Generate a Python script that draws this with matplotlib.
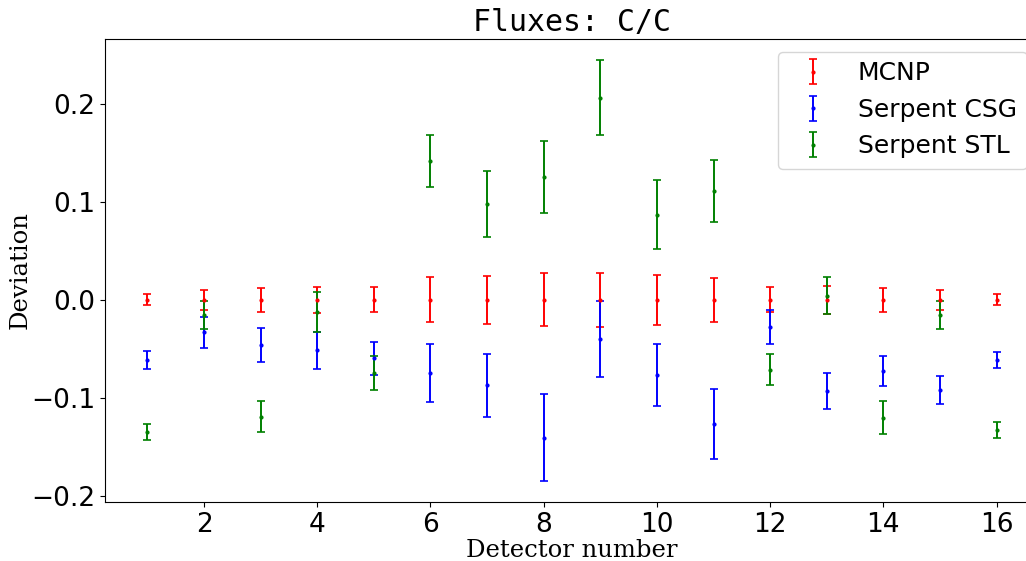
import matplotlib
matplotlib.use("Agg")
import matplotlib.pyplot as plt
import numpy as np

detectors = list(range(1, 17))

mcnp_val = [0.0] * 16
mcnp_err = [0.0058, 0.0102, 0.0121, 0.0136, 0.0129, 0.0230, 0.0243, 0.0269,
            0.0277, 0.0253, 0.0224, 0.0128, 0.0141, 0.0121, 0.0102, 0.0058]

csg_val = [-0.0616, -0.0333, -0.0459, -0.0517, -0.0599, -0.0752, -0.0874, -0.1408,
           -0.0401, -0.0769, -0.1269, -0.0282, -0.0932, -0.0728, -0.0922, -0.0616]
csg_err = [0.0088, 0.0156, 0.0173, 0.0189, 0.0172, 0.0296, 0.0321, 0.0446,
           0.0390, 0.0318, 0.0362, 0.0173, 0.0185, 0.0151, 0.0143, 0.0080]

stl_val = [-0.1350, -0.0156, -0.1194, -0.0126, -0.0748, 0.1422, 0.0980, 0.1259,
           0.2065, 0.0871, 0.1112, -0.0714, 0.0044, -0.1204, -0.0156, -0.1330]
stl_err = [0.0085, 0.0141, 0.0156, 0.0202, 0.0175, 0.0267, 0.0339, 0.0367,
           0.0384, 0.0350, 0.0320, 0.0160, 0.0187, 0.0165, 0.0141, 0.0080]

labels = ["MCNP", "Serpent CSG", "Serpent STL"]
colors = ["red", "blue", "green"]

fig = plt.figure(figsize=(10.26, 5.61), dpi=100)
ax = fig.add_axes([105 / 1026, (561 - 502) / 561, (1039 - 105) / 1026, (502 - 39) / 561])

for vals, errs, lab, col in zip([mcnp_val, csg_val, stl_val],
                                [mcnp_err, csg_err, stl_err], labels, colors):
    ax.errorbar(detectors, vals, yerr=errs, fmt='.', color=col, ecolor=col,
                markersize=4, capsize=3, elinewidth=1.4, capthick=1.2, label=lab)

ax.set_xlim(0.25, 16.75)
ax.set_ylim(-0.2066, 0.2665)
ax.set_xticks([2, 4, 6, 8, 10, 12, 14, 16])
ax.set_yticks([-0.2, -0.1, 0.0, 0.1, 0.2])
ax.tick_params(labelsize=19)

ax.set_title("Fluxes: C/C", fontsize=21.5, family="DejaVu Sans Mono")
ax.set_xlabel("Detector number", fontsize=17.5, family="DejaVu Serif", labelpad=1)
ax.set_ylabel("Deviation", fontsize=17.5, family="DejaVu Serif", labelpad=0)

ax.legend(loc="upper right", fontsize=18)

fig.savefig("out.png", dpi=100)
